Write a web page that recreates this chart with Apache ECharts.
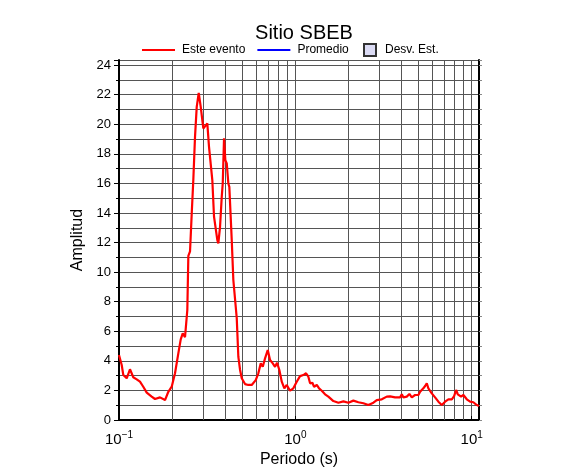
<!DOCTYPE html>
<html><head><meta charset="utf-8">
<script src="https://cdn.jsdelivr.net/npm/echarts@6/dist/echarts.min.js"></script>
<style>html,body{margin:0;padding:0;background:#fff}#c{width:586px;height:475px}</style>
</head><body><div id="c"></div>
<script>
const title = 'Sitio SBEB';
const legendNames = ['Este evento', 'Promedio', 'Desv. Est.'];
const periods = [0.1,0.1036,0.1058,0.1106,0.1154,0.1205,0.126,0.1315,0.1373,0.1436,0.1532,0.16,0.1708,0.1824,0.1904,0.199,0.2078,0.217,0.2239,0.2298,0.2368,0.244,0.2473,0.2528,0.2585,0.2639,0.2698,0.2759,0.2832,0.2907,0.3007,0.3074,0.3168,0.3239,0.3312,0.3382,0.3458,0.3536,0.3611,0.3658,0.3741,0.3825,0.3875,0.3941,0.4009,0.4083,0.4169,0.4223,0.4358,0.445,0.4652,0.475,0.4857,0.4966,0.5185,0.5413,0.5657,0.5777,0.5961,0.6168,0.6364,0.6533,0.6732,0.6974,0.7187,0.7445,0.7671,0.7875,0.8115,0.8374,0.8662,0.8938,0.9331,0.9743,1.018,1.063,1.11,1.15,1.185,1.212,1.249,1.277,1.323,1.363,1.412,1.474,1.539,1.643,1.754,1.872,1.998,2.133,2.277,2.431,2.595,2.77,2.895,3.091,3.299,3.445,3.678,3.926,4.014,4.099,4.285,4.433,4.574,4.775,4.986,5.098,5.321,5.441,5.563,5.681,5.939,6.2,6.473,6.768,7.066,7.377,7.713,7.949,8.155,8.34,8.707,8.973,9.38,9.795,10.22,10.69,11.0];
const amplitudes = [4.4,3.72,3.04,2.82,3.43,2.89,2.75,2.59,2.25,1.85,1.58,1.42,1.53,1.35,1.91,2.25,3.16,4.51,5.45,5.86,5.6,7.44,11.1,11.4,13.98,16.23,19.15,21.18,22.13,21.18,19.72,19.83,20.06,18.48,18.37,16.23,13.75,13.64,12.17,11.95,13.07,15.1,16.0,19.05,17.58,17.36,16.0,15.77,12.17,9.47,6.9,4.28,3.4,2.82,2.43,2.37,2.37,2.25,2.7,3.16,3.83,3.6,4.17,4.73,4.06,3.83,3.6,3.87,3.38,2.59,2.14,2.37,1.98,2.14,2.59,2.97,3.04,3.16,2.93,2.48,2.52,2.25,2.37,2.14,1.98,1.74,1.58,1.28,1.17,1.26,1.17,1.31,1.2,1.13,1.01,1.17,1.35,1.4,1.58,1.6,1.53,1.53,1.74,1.53,1.58,1.76,1.53,1.69,1.69,1.91,2.14,2.3,2.48,2.14,1.8,1.53,1.24,1.01,1.24,1.4,1.4,1.62,2.03,1.74,1.58,1.69,1.4,1.24,1.2,1.01,0.95];
const xMin = 0.1, xMax = 11, yMin = 0, yMax = 24.35;
const minorPeriods = [0.2,0.3,0.4,0.5,0.6,0.7,0.8,0.9,2,3,4,5,6,7,8,9];

const chart = echarts.init(document.getElementById('c'));
const fontFam = 'Liberation Sans, Arial, sans-serif';
const expRich = {
  a: {fontSize: 15, fontFamily: fontFam, color: '#000'},
  b: {fontSize: 10, fontFamily: fontFam, color: '#000', verticalAlign: 'bottom', padding: [0,0,9,0]}
};
function expLabel(v) {
  const e = Math.round(Math.log10(v));
  return '{a|10}{b|' + (e < 0 ? '\u2212' + (-e) : e) + '}';
}
chart.setOption({
  animation: false,
  title: {text: title, left: 299, textAlign: 'center', top: 18,
    textStyle: {fontSize: 20, fontWeight: 'normal', fontFamily: fontFam, color: '#000'}},
  legend: [
    {data: [{name: legendNames[0], icon: 'rect'}, {name: legendNames[1], icon: 'rect'}],
      left: 137, top: 39, itemWidth: 33, itemHeight: 2, itemGap: 12,
      textStyle: {fontSize: 12, fontFamily: fontFam, color: '#000', padding: [0,0,0,2]}},
    {data: [{name: legendNames[2], icon: 'rect'}], left: 358, top: 38, itemWidth: 12, itemHeight: 12, itemGap: 8,
      textStyle: {fontSize: 12, fontFamily: fontFam, color: '#000', padding: [0,0,0,4]}}
  ],
  grid: {left: 119, right: 107, top: 60, bottom: 55, containLabel: false},
  xAxis: [
    {type: 'log', logBase: 10, min: xMin, max: xMax, position: 'bottom',
      name: 'Periodo (s)', nameLocation: 'middle', nameGap: 25,
      nameTextStyle: {fontSize: 16, fontFamily: fontFam, color: '#000'},
      axisLine: {show: true, lineStyle: {color: '#000', width: 2}},
      axisTick: {show: false},
      axisLabel: {formatter: expLabel, rich: expRich, margin: 10, showMaxLabel: false},
      splitLine: {show: true, lineStyle: {color: '#555', width: 1}}},
    {type: 'log', logBase: 10, min: xMin, max: xMax, position: 'top',
      axisLine: {show: true, lineStyle: {color: '#000', width: 2}},
      axisTick: {show: true, inside: false, length: 4, lineStyle: {color: '#000'}},
      minorTick: {show: true, splitNumber: 9, length: 4, lineStyle: {color: '#000'}},
      axisLabel: {show: false}, splitLine: {show: false}}
  ],
  yAxis: [
    {type: 'value', min: yMin, max: yMax, interval: 2, position: 'left',
      name: 'Amplitud', nameLocation: 'middle', nameGap: 27,
      nameTextStyle: {fontSize: 16, fontFamily: fontFam, color: '#000'},
      axisLine: {show: true, lineStyle: {color: '#000', width: 2}},
      axisTick: {show: true, length: 5, lineStyle: {color: '#000'}},
      minorTick: {show: true, splitNumber: 2, length: 3, lineStyle: {color: '#000'}},
      axisLabel: {fontSize: 13, fontFamily: fontFam, color: '#000', margin: 8, showMaxLabel: false},
      splitLine: {show: false}},
    {type: 'value', min: yMin, max: yMax, interval: 1, position: 'right',
      axisLine: {show: true, lineStyle: {color: '#000', width: 2}},
      axisTick: {show: true, length: 3, lineStyle: {color: '#888'}},
      axisLabel: {show: false},
      splitLine: {show: true, lineStyle: {color: '#555', width: 1}}}
  ],
  series: [
    {name: legendNames[0], type: 'line', symbol: 'none', data: periods.map((p, i) => [p, amplitudes[i]]),
      lineStyle: {color: '#ff0000', width: 2.2}, itemStyle: {color: '#ff0000'}, z: 5,
      markLine: {silent: true, symbol: 'none', label: {show: false}, animation: false,
        lineStyle: {color: '#555', width: 1, type: 'solid'},
        data: minorPeriods.map(v => ({xAxis: v}))}},
    {name: legendNames[1], type: 'line', symbol: 'none', data: [],
      lineStyle: {color: '#0000ff', width: 2}, itemStyle: {color: '#0000ff'}},
    {name: legendNames[2], type: 'bar', data: [],
      itemStyle: {color: '#dcdcf5', borderColor: '#333', borderWidth: 1}}
  ]
});
</script></body></html>
